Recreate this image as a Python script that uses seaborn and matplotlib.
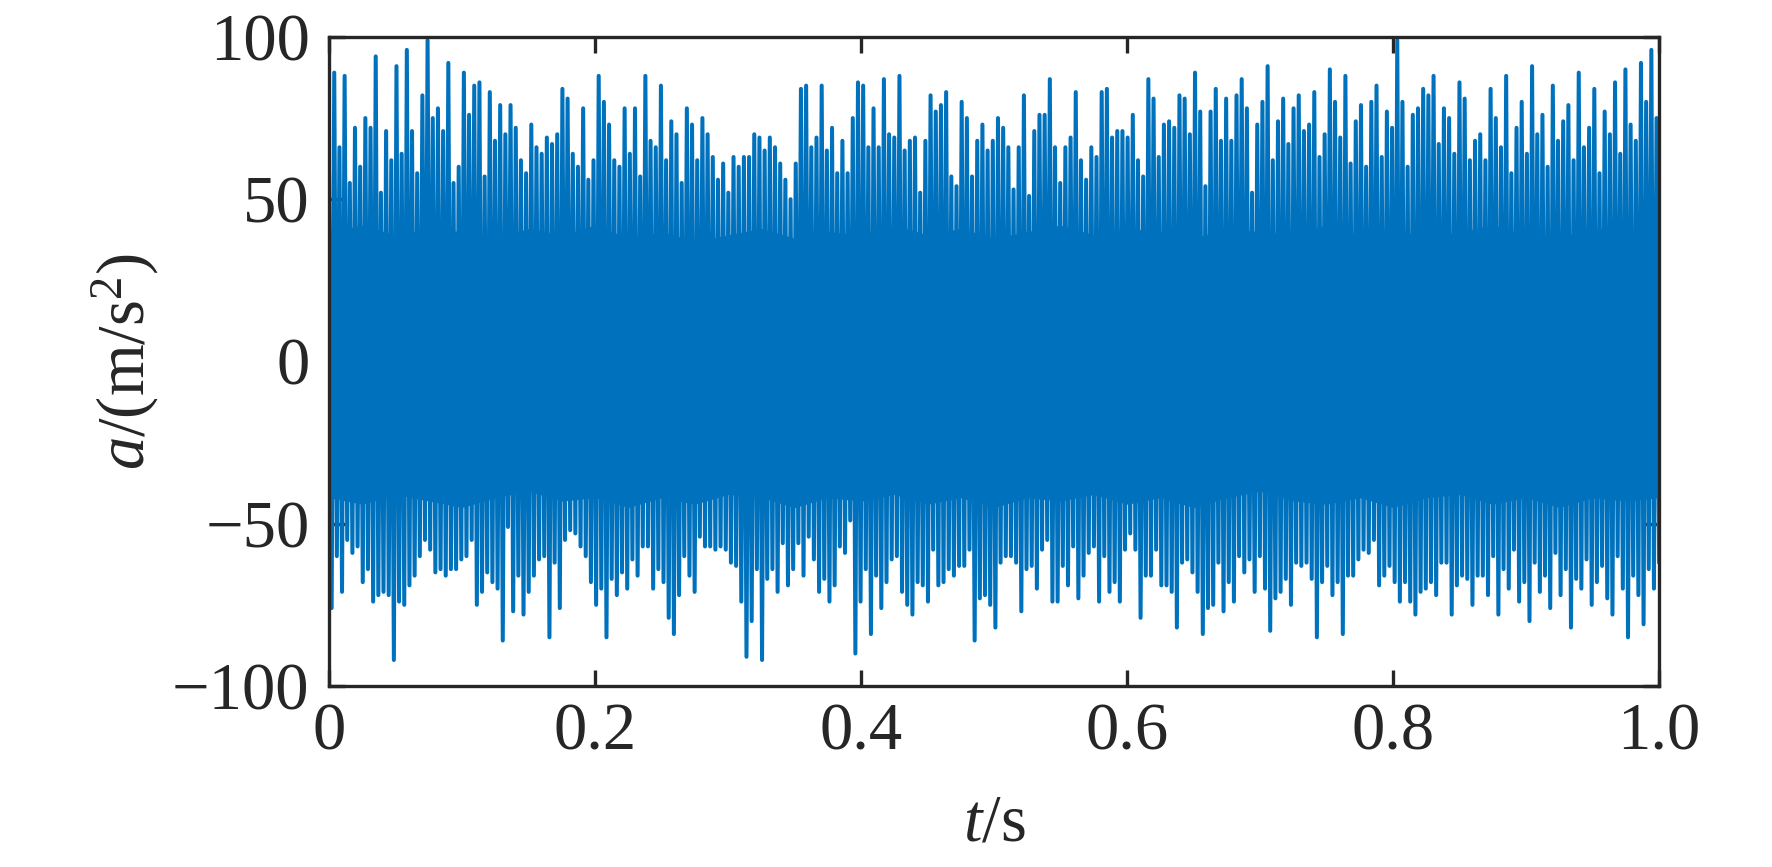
import numpy as np
import matplotlib
matplotlib.use("Agg")
import matplotlib.pyplot as plt
import seaborn as sns

# upper spikes of the acceleration record, read left to right (m/s^2)
peaks = [
    58, 89, 66, 88, 55, 72, 60, 75, 72, 94, 52, 71, 62, 91, 64, 96, 71, 58, 82, 99,
    75, 78, 71, 92, 55, 60, 89, 76, 85, 86, 57, 83, 68, 79, 70, 79, 72, 62, 58, 73,
    66, 64, 69, 67, 70, 84, 81, 64, 60, 78, 56, 62, 88, 80, 73, 62, 60, 78, 64, 78,
    57, 88, 68, 66, 85, 62, 74, 70, 55,
    78, 73, 62, 75, 70, 63, 56, 61, 52, 63, 60, 63, 63, 70, 69, 65, 69, 66, 61, 56,
    50, 61, 84, 85, 66, 69, 85, 65, 72, 58, 68, 58, 75, 86, 85, 66, 78, 66, 87, 70,
    69, 88, 65, 68, 69, 52, 68, 82, 77, 79, 83, 57, 54, 80, 75, 57, 68, 73, 65, 68,
    75, 72, 66, 53, 66, 82, 51, 71, 76, 76, 87, 66, 55,
    66, 69, 83, 62, 56, 66, 63, 83, 84, 69, 71, 71, 69, 76, 62, 57, 87, 81, 63, 73,
    74, 72, 82, 81, 70, 89, 77, 54, 77, 84, 68, 81, 68, 82, 87, 78, 52, 73, 80, 91,
    62, 74, 81, 67, 78, 82, 71, 73, 83, 63, 70, 90, 80, 69, 88, 61, 74, 79, 60, 80,
    85, 63, 77, 72, 99, 80, 60, 76, 78, 84, 82, 88, 67, 78, 75, 64, 86, 81, 62, 68,
    70, 62, 84, 75, 66, 88, 58, 72, 80, 64, 91, 70, 76, 60, 85, 68, 74, 79, 62, 89,
    66, 72, 84, 58, 77, 70, 86, 64, 90, 73, 68, 92, 80, 96, 75,
]

# lower spikes, read left to right (m/s^2)
troughs = [
    -76, -60, -71, -55, -59, -57, -68, -64, -74, -72, -71, -72, -92, -74, -75, -69,
    -66, -60, -55, -58, -65, -64, -66, -64, -64, -61, -60, -55, -75, -71, -65, -68,
    -70, -86, -51, -77, -66, -78, -71, -66, -61, -60, -85, -62, -76, -55, -52, -53,
    -57, -60, -68, -75, -70, -85, -67, -72, -65, -70, -61, -66, -57, -57, -70, -64,
    -68, -79, -84, -72, -60, -66, -71, -54, -57, -57, -58,
    -57, -58, -62, -63, -74, -91, -80, -64, -92, -67, -64, -71, -56, -69, -64, -56,
    -66, -54, -61, -71, -67, -74, -69, -57, -59, -49, -90, -74, -64, -84, -66, -76,
    -68, -61, -60, -71, -75, -78, -68, -69, -74, -58, -69, -68, -64, -66, -63, -63,
    -58, -86, -73, -72, -75, -82, -62, -60, -60, -62, -77, -64, -63, -70, -58, -55,
    -74, -74, -63, -69, -57, -73, -66, -59, -57,
    -74, -60, -71, -68, -74, -58, -53, -58, -79, -66, -66, -58, -69, -69, -71, -82,
    -62, -61, -65, -71, -84, -76, -75, -62, -77, -68, -74, -60, -65, -61, -71, -60,
    -70, -83, -73, -71, -67, -75, -62, -63, -62, -67, -85, -68, -63, -72, -68, -84,
    -66, -66, -61, -58, -59, -55, -69, -66, -63, -68, -74, -68, -74, -78, -71, -70,
    -68, -72, -62, -62, -78, -69, -66, -67, -75, -66,
    -66, -72, -60, -78, -64, -70, -58, -74, -68, -80, -62, -71, -66, -76, -59, -72,
    -64, -82, -67, -70, -61, -75, -68, -63, -73, -78, -60, -70, -85, -66, -72, -81,
    -64, -70, -62,
]

# level up to which the dense trace is solid, every 0.025 s
band_top = [40, 42, 39, 41, 40, 38, 41, 39, 42, 38, 40, 37, 39, 41, 38, 40, 39, 42, 39, 41,
            38, 40, 42, 39, 41, 40, 38, 41, 40, 39, 42, 39, 41, 38, 40, 42, 39, 38, 41, 40, 39]
band_bottom = [-42, -44, -41, -43, -45, -42, -40, -43, -42, -45, -42, -44, -41, -42, -45,
               -42, -43, -41, -44, -42, -45, -42, -43, -41, -44, -42, -45, -42, -40, -43,
               -44, -42, -45, -42, -41, -44, -42, -45, -42, -43, -42]

x_ticks = [0, 0.2, 0.4, 0.6, 0.8, 1.0]
x_tick_labels = ["0", "0.2", "0.4", "0.6", "0.8", "1.0"]
y_ticks = [-100, -50, 0, 50, 100]
y_tick_labels = ["\u2212100", "\u221250", "0", "50", "100"]

# interleave upper and lower spikes into one time series over 1 s
n = min(len(peaks), len(troughs))
a = np.empty(2 * n)
a[0::2] = peaks[:n]
a[1::2] = troughs[:n]
t = np.linspace(0, 1, 2 * n)
t_band = np.linspace(0, 1, len(band_top))

sns.set_style("ticks")
plt.rcParams["font.family"] = "serif"
plt.rcParams["font.serif"] = ["Liberation Serif", "DejaVu Serif"]
plt.rcParams["mathtext.fontset"] = "custom"
plt.rcParams["mathtext.rm"] = "Liberation Serif"
plt.rcParams["mathtext.it"] = "Liberation Serif:italic"

blue = "#0072BD"
dark = "#262626"
fig = plt.figure(figsize=(17.72, 8.67), dpi=100)
ax = fig.add_axes([0.1857, 0.2088, 0.7506, 0.7486])

ax.fill_between(t_band, band_bottom, band_top, color=blue, linewidth=0)
sns.lineplot(x=t, y=a, ax=ax, color=blue, linewidth=2.9,
             estimator=None, sort=False)

ax.set_xlim(0, 1)
ax.set_ylim(-100, 100)
ax.set_xticks(x_ticks)
ax.set_xticklabels(x_tick_labels)
ax.set_yticks(y_ticks)
ax.set_yticklabels(y_tick_labels)

for s in ax.spines.values():
    s.set_visible(True)
    s.set_linewidth(2.4)
    s.set_color(dark)
    s.set_zorder(5)
ax.tick_params(direction="in", length=11.5, width=2.4, color=dark,
               labelsize=48, labelcolor=dark, top=True, right=True)
ax.tick_params(axis="x", pad=12)
ax.tick_params(axis="y", pad=14)

ax.set_xlabel(r"$t$/s", fontsize=48, color=dark)
ax.set_ylabel(r"$a$/(m/s$^{2}$)", fontsize=48, color=dark)
ax.xaxis.set_label_coords(0.5, -0.165)
ax.yaxis.set_label_coords(-0.126, 0.5)

fig.savefig("out.png", dpi=100)
